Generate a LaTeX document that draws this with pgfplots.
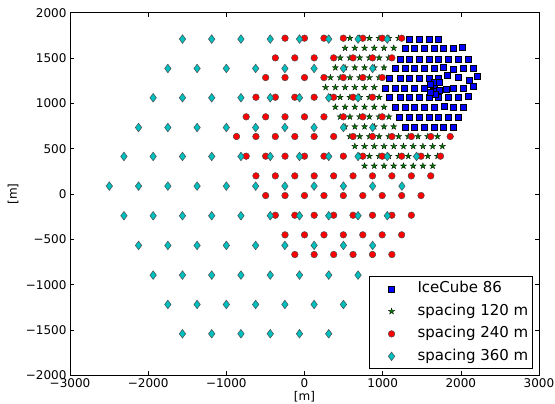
\documentclass[border=0pt]{standalone}
\usepackage{fontspec}
\setmainfont{DejaVu Sans}
\usepackage{pgfplots}
\pgfplotsset{compat=1.18}
\usetikzlibrary{plotmarks}

\definecolor{icblue}{RGB}{0,0,255}
\definecolor{stargreen}{RGB}{0,120,0}
\definecolor{dotred}{RGB}{255,0,0}
\definecolor{diacyan}{RGB}{0,191,191}

% filled five-pointed star
\pgfdeclareplotmark{fstar}{%
  \pgfpathmoveto{\pgfqpointpolar{90}{\pgfplotmarksize}}%
  \pgfpathlineto{\pgfqpointpolar{126}{0.382\pgfplotmarksize}}%
  \pgfpathlineto{\pgfqpointpolar{162}{\pgfplotmarksize}}%
  \pgfpathlineto{\pgfqpointpolar{198}{0.382\pgfplotmarksize}}%
  \pgfpathlineto{\pgfqpointpolar{234}{\pgfplotmarksize}}%
  \pgfpathlineto{\pgfqpointpolar{270}{0.382\pgfplotmarksize}}%
  \pgfpathlineto{\pgfqpointpolar{306}{\pgfplotmarksize}}%
  \pgfpathlineto{\pgfqpointpolar{342}{0.382\pgfplotmarksize}}%
  \pgfpathlineto{\pgfqpointpolar{18}{\pgfplotmarksize}}%
  \pgfpathlineto{\pgfqpointpolar{54}{0.382\pgfplotmarksize}}%
  \pgfpathclose
  \pgfusepathqfillstroke}

\begin{document}
\begin{tikzpicture}
\begin{axis}[
  scale only axis,
  width=469bp, height=362.8bp,
  xmin=-3000, xmax=3000, ymin=-2000, ymax=2000,
  axis line style={line width=0.8bp},
  xtick={-3000,-2000,-1000,0,1000,2000,3000},
  xticklabels={−3000,−2000,−1000,0,1000,2000,3000},
  ytick={-2000,-1500,-1000,-500,0,500,1000,1500,2000},
  yticklabels={−2000,−1500,−1000,−500,0,500,1000,1500,2000},
  tick align=inside,
  major tick length=4bp,
  tick style={line width=0.6bp, black},
  ticklabel style={font=\fontsize{12bp}{14bp}\selectfont},
  xlabel={[m]}, ylabel={[m]},
  label style={font=\fontsize{12bp}{14bp}\selectfont},
  xlabel style={at={(axis description cs:0.5,-0.0593)}, anchor=center},
  ylabel style={at={(axis description cs:-0.1215,0.5)}, anchor=center},
  legend cell align=left,
  legend style={at={(axis description cs:0.9866,0.0179)}, anchor=south east,
    draw=black, line width=0.8bp, fill=white,
    font=\fontsize{15bp}{18bp}\selectfont,
    inner xsep=2bp, inner ysep=3bp, row sep=4bp, column sep=6bp,
    nodes={inner sep=2bp, text height=11bp, text depth=3.5bp}},
  legend image code/.code={
    \path[draw=none, fill=none] (-8bp,-5bp) rectangle (30bp,5bp);
    \draw[#1] plot coordinates {(12bp,0bp)};},
]

% IceCube 86 strings
\addplot[only marks, mark=square*, mark size=3bp,
  mark options={fill=icblue, draw=black, line width=0.5bp}] coordinates {
  (1340,1712) (1468,1712) (1596,1712) (1715,1712)
  (1285,1604) (1409,1604) (1532,1604) (1660,1604) (1779,1604) (1902,1604) (2013,1624)
  (1221,1492) (1340,1492) (1468,1492) (1596,1492) (1715,1492) (1838,1492) (1970,1492) (2094,1492)
  (1157,1389) (1285,1389) (1409,1389) (1532,1389) (1660,1389) (1779,1396) (1902,1378) (2030,1389) (2153,1389)
  (1085,1279) (1221,1279) (1340,1279) (1468,1279) (1596,1279) (1715,1279) (1821,1308) (1962,1286) (2106,1260) (2205,1297)
  (1030,1168) (1157,1168) (1281,1168) (1404,1168) (1532,1168) (1660,1168) (1808,1157) (1904,1168) (2030,1168) (2162,1187)
  (1085,1065) (1221,1065) (1340,1065) (1468,1065) (1596,1065) (1715,1065) (1838,1065) (1970,1065) (2100,1080)
  (1157,955) (1283,955) (1407,955) (1532,955) (1660,955) (1785,973) (1902,955) (2030,955)
  (1213,847) (1340,847) (1468,847) (1596,847) (1715,847) (1840,847) (1970,847)
  (1283,738) (1407,738) (1532,738) (1660,738) (1779,738) (1902,738)
  (1645,1130) (1686,1136) (1655,1238) (1721,1230) (1727,1142) (1671,1097) (1604,1123) (1603,1210)
};
\addlegendentry{IceCube 86}

% 120 m grid
\addplot[only marks, mark=fstar, mark size=3.3bp,
  mark options={fill=stargreen, draw=black, line width=0.25bp}] coordinates {
  (581,1719) (705.5,1719) (830,1719) (954.5,1719) (1079,1719) (1203.5,1719)
  (519,1610) (643.5,1610) (768,1610) (892.5,1610) (1017,1610) (1141.5,1610)
  (456.5,1502) (581,1502) (705.5,1502) (830,1502) (954.5,1502) (1079,1502)
  (394.5,1394) (519,1394) (643.5,1394) (768,1394) (892.5,1394) (1017,1394)
  (332,1285) (456.5,1285) (581,1285) (705.5,1285) (830,1285) (954.5,1285)
  (270,1177) (394.5,1177) (519,1177) (643.5,1177) (768,1177) (892.5,1177)
  (332,1068) (456.5,1068) (581,1068) (705.5,1068) (830,1068) (954.5,1068)
  (394.5,960) (519,960) (643.5,960) (768,960) (892.5,960) (1017,960)
  (456.5,852) (581,852) (705.5,852) (830,852) (954.5,852) (1079,852)
  (519,743) (643.5,743) (768,743) (892.5,743) (1017,743) (1141.5,743)
  (581,635) (705.5,635) (830,635) (954.5,635) (1079,635) (1203.5,635) (1328,635) (1452.5,635) (1577,635) (1701.5,635)
  (643.5,527) (768,527) (892.5,527) (1017,527) (1141.5,527) (1266,527) (1390.5,527) (1515,527) (1639.5,527) (1764,527)
  (705.5,418) (830,418) (954.5,418) (1079,418) (1203.5,418) (1328,418) (1452.5,418) (1577,418) (1701.5,418)
  (768,310) (892.5,310) (1017,310) (1141.5,310) (1266,310) (1390.5,310) (1515,310) (1639.5,310)
};
\addlegendentry{spacing 120 m}

% 240 m grid
\addplot[only marks, mark=*, mark size=3.3bp,
  mark options={fill=dotred, draw=black!70, line width=0.5bp}] coordinates {
  (-249,1719) (0,1719) (249,1719) (497,1719) (746,1719) (994,1719) (1243,1719)
  (-373,1502) (-124,1502) (124,1502) (373,1502) (621,1502) (870,1502) (1118,1502)
  (-497,1285) (-249,1285) (0,1285) (249,1285) (497,1285) (746,1285) (994,1285)
  (-621,1068) (-373,1068) (-124,1068) (124,1068) (373,1068) (621,1068) (870,1068)
  (-746,852) (-497,852) (-249,852) (0,852) (249,852) (497,852) (746,852) (994,852)
  (-870,635) (-621,635) (-373,635) (-124,635) (124,635) (373,635) (621,635) (870,635) (1118,635) (1367,635) (1615,635) (1864,635)
  (-746,418) (-497,418) (-249,418) (0,418) (249,418) (497,418) (746,418) (994,418) (1243,418) (1491,418) (1740,418)
  (-621,201) (-373,201) (-124,201) (124,201) (373,201) (621,201) (870,201) (1118,201) (1367,201) (1615,201)
  (-497,-16) (-249,-16) (0,-16) (249,-16) (497,-16) (746,-16) (994,-16) (1243,-16) (1491,-16)
  (-373,-233) (-124,-233) (124,-233) (373,-233) (621,-233) (870,-233) (1118,-233) (1367,-233)
  (-249,-449) (0,-449) (249,-449) (497,-449) (746,-449) (994,-449) (1243,-449)
  (-124,-666) (124,-666) (373,-666) (621,-666) (870,-666) (1118,-666)
};
\addlegendentry{spacing 240 m}

% 360 m grid
\addplot[only marks, mark=diamond*, mark size=4.3bp,
  mark options={fill=diacyan, draw=black!70, line width=0.5bp}] coordinates {
  (-1561,1709) (-1187,1709) (-813,1709) (-438,1709) (-64,1709) (310,1709) (685,1709) (1059,1709)
  (-1748,1385) (-1374,1385) (-1000,1385) (-625,1385) (-251,1385) (123,1385) (498,1385) (872,1385)
  (-1936,1062) (-1561,1062) (-1187,1062) (-813,1062) (-438,1062) (-64,1062) (310,1062) (685,1062)
  (-2123,734) (-1748,734) (-1374,734) (-1000,734) (-625,734) (-251,734) (123,734) (498,734) (872,734)
  (-2310,415) (-1936,415) (-1561,415) (-1187,415) (-813,415) (-438,415) (-64,415) (310,415) (685,415) (1059,415) (1433,415)
  (-2497,88) (-2123,88) (-1748,88) (-1374,88) (-1000,88) (-625,88) (-251,88) (123,88) (498,88) (872,88) (1246,88)
  (-2310,-239) (-1936,-239) (-1561,-239) (-1187,-239) (-813,-239) (-438,-239) (-64,-239) (310,-239) (685,-239) (1059,-239)
  (-2123,-566) (-1748,-566) (-1374,-566) (-1000,-566) (-625,-566) (-251,-566) (123,-566) (498,-566) (872,-566)
  (-1936,-893) (-1561,-893) (-1187,-893) (-813,-893) (-438,-893) (-64,-893) (310,-893) (685,-893)
  (-1748,-1217) (-1374,-1217) (-1000,-1217) (-625,-1217) (-251,-1217) (123,-1217) (498,-1217)
  (-1561,-1540) (-1187,-1540) (-813,-1540) (-438,-1540) (-64,-1540) (310,-1540)
};
\addlegendentry{spacing 360 m}

\end{axis}
\pgfresetboundingbox
\useasboundingbox ([shift={(-70bp,-28.5bp)}]current axis.south west)
  rectangle ([shift={(16bp,12.7bp)}]current axis.north east);
\end{tikzpicture}
\end{document}
